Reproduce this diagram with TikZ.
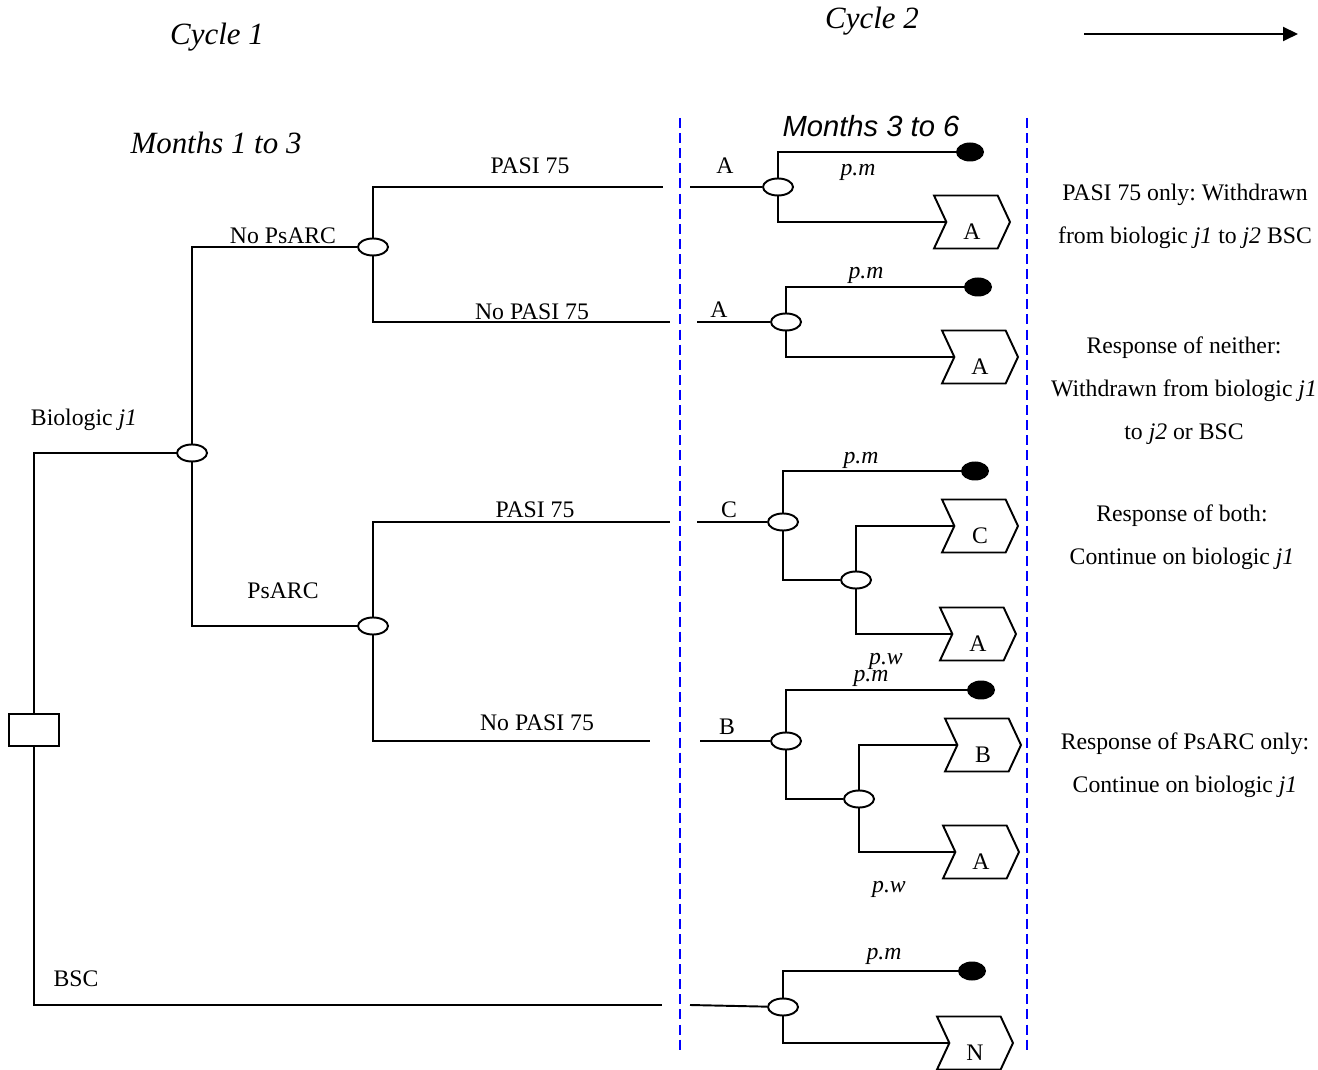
\documentclass[tikz,border=0pt]{standalone}
\usepackage{fontspec}
\setmainfont{Liberation Serif}
\newfontfamily\sansfam{Liberation Sans}
\usepackage{tikz}
\usetikzlibrary{shapes.geometric,shapes.symbols,arrows.meta,positioning}
\frenchspacing

\tikzset{
	chance/.style={draw, ellipse, fill=white, line width=1.1pt, minimum width=0.6cm, minimum height=0.34cm, inner sep=0pt},
	term/.style={ellipse, fill=black, minimum width=0.56cm, minimum height=0.38cm, inner sep=0pt},
	decision/.style={draw, rectangle, fill=white, line width=1.1pt, minimum width=1cm, minimum height=0.64cm, inner sep=0pt},
	markov/.style={draw, signal, signal to=east, signal from=west, signal pointer angle=130, line width=1.1pt,
		minimum width=1.52cm, minimum height=1.06cm, inner sep=0pt, text height=0.7cm, text depth=0pt, font=\fontsize{13.5}{16}\selectfont},
	branch/.style={line width=1.1pt},
	lbl/.style={font=\fontsize{13.5}{16}\selectfont, inner sep=0pt},
	prob/.style={font=\fontsize{13.5}{16}\selectfont\itshape, inner sep=0pt},
	title/.style={font=\fontsize{17.6}{20}\selectfont\itshape, inner sep=0pt},
	note/.style={font=\fontsize{13.5}{24.5}\selectfont, align=center, inner sep=0pt}
}

\begin{document}
\begin{tikzpicture}[x=0.02cm, y=-0.02cm]
		\useasboundingbox (0,0) rectangle (1318,1070);

		% cycle boundaries
		\draw[blue, line width=1.1pt, dash pattern=on 5.7pt off 2.9pt] (680,118) -- (680,1050);
		\draw[blue, line width=1.1pt, dash pattern=on 5.7pt off 2.9pt] (1027,118) -- (1027,1050);

		\node[title] (cyc1) at (217,37) {Cycle 1};
		\node[title] (cyc2) at (872,21) {Cycle 2};
		\node[title] (mon1) at (216,143) {Months 1 to 3};
		\node[font=\sansfam\fontsize{16.6}{20}\selectfont\itshape, inner sep=0pt] (mon2) at (871,126) {Months 3 to 6};

		\coordinate (arrS) at (1084,34);
		\coordinate (arrE) at (1298,34);
		\draw[branch, -{Triangle[length=0.3cm, width=0.28cm]}] (arrS) -- (arrE);

		% months 1 to 3
		\node[decision] (root) at (34,730) {};
		\node[chance] (bio) at (192,453) {};
		\node[chance] (nops) at (373,247) {};
		\node[chance] (ps) at (373,626) {};

		\coordinate (e1) at (663,187);
		\coordinate (e2) at (670,322);
		\coordinate (e3) at (670,522);
		\coordinate (e4) at (650,741);
		\coordinate (e5) at (662,1005);

		\draw[branch] (root) |- (bio);
		\draw[branch] (root) |- (e5);
		\draw[branch] (bio) |- (nops);
		\draw[branch] (bio) |- (ps);
		\draw[branch] (nops) |- (e1);
		\draw[branch] (nops) |- (e2);
		\draw[branch] (ps) |- (e3);
		\draw[branch] (ps) |- (e4);

		\node[lbl] at (84,420) {Biologic \textit{j1}};
		\node[lbl] at (76,979) {BSC};
		\node[lbl] at (283,236) {No PsARC};
		\node[lbl] at (283,591) {PsARC};
		\node[lbl] at (530,166) {PASI 75};
		\node[lbl] at (532,312) {No PASI 75};
		\node[lbl] at (535,510) {PASI 75};
		\node[lbl] at (537,723) {No PASI 75};

		% months 3 to 6
		\coordinate (s1) at (690,187);
		\node[chance] (r1) at (778,187) {};
		\node[term] (t1) at (970,152) {};
		\node[markov] (m1) at (972,222) {A};
		\draw[branch] (s1) -- (r1);
		\draw[branch] (r1) |- (t1);
		\draw[branch] (r1) |- (m1);
		\node[lbl] at (725,166) {A};
		\node[prob] at (858,172) {p.m};

		\coordinate (s2) at (697,322);
		\node[chance] (r2) at (786,322) {};
		\node[term] (t2) at (978,287) {};
		\node[markov] (m2) at (980,357) {A};
		\draw[branch] (s2) -- (r2);
		\draw[branch] (r2) |- (t2);
		\draw[branch] (r2) |- (m2);
		\node[lbl] at (719,310) {A};
		\node[prob] at (866,275) {p.m};

		\coordinate (s3) at (697,522);
		\node[chance] (r3) at (783,522) {};
		\node[term] (t3) at (975,471) {};
		\node[chance] (r3b) at (856,580) {};
		\node[markov] (m3) at (980,526) {C};
		\node[markov] (m4) at (978,634) {A};
		\draw[branch] (s3) -- (r3);
		\draw[branch] (r3) |- (t3);
		\draw[branch] (r3) |- (r3b);
		\draw[branch] (r3b) |- (m3);
		\draw[branch] (r3b) |- (m4);
		\node[lbl] at (729,510) {C};
		\node[prob] at (861,460) {p.m};
		\node[prob] at (886,661) {p.w};

		\coordinate (s4) at (700,741);
		\node[chance] (r4) at (786,741) {};
		\node[term] (t4) at (981,690) {};
		\node[chance] (r4b) at (859,799) {};
		\node[markov] (m5) at (983,745) {B};
		\node[markov] (m6) at (981,852) {A};
		\draw[branch] (s4) -- (r4);
		\draw[branch] (r4) |- (t4);
		\draw[branch] (r4) |- (r4b);
		\draw[branch] (r4b) |- (m5);
		\draw[branch] (r4b) |- (m6);
		\node[lbl] at (727,727) {B};
		\node[prob] at (871,678) {p.m};
		\node[prob] at (889,889) {p.w};

		\coordinate (s5) at (690,1005);
		\node[chance] (r5) at (783,1007) {};
		\node[term] (t5) at (972,971) {};
		\node[markov] (m7) at (975,1043) {N};
		\draw[branch] (s5) -- (r5);
		\draw[branch] (r5) |- (t5);
		\draw[branch] (r5) |- (m7);
		\node[prob] at (884,956) {p.m};

		% outcomes
		\node[note] at (1185,216) {PASI 75 only: Withdrawn\\from biologic \textit{j1} to \textit{j2} BSC};
		\node[note] at (1184,391) {Response of neither:\\Withdrawn from biologic \textit{j1}\\to \textit{j2} or BSC};
		\node[note] at (1182,537) {Response of both:\\Continue on biologic \textit{j1}};
		\node[note] at (1185,765) {Response of PsARC only:\\Continue on biologic \textit{j1}};
	\end{tikzpicture}
\end{document}
